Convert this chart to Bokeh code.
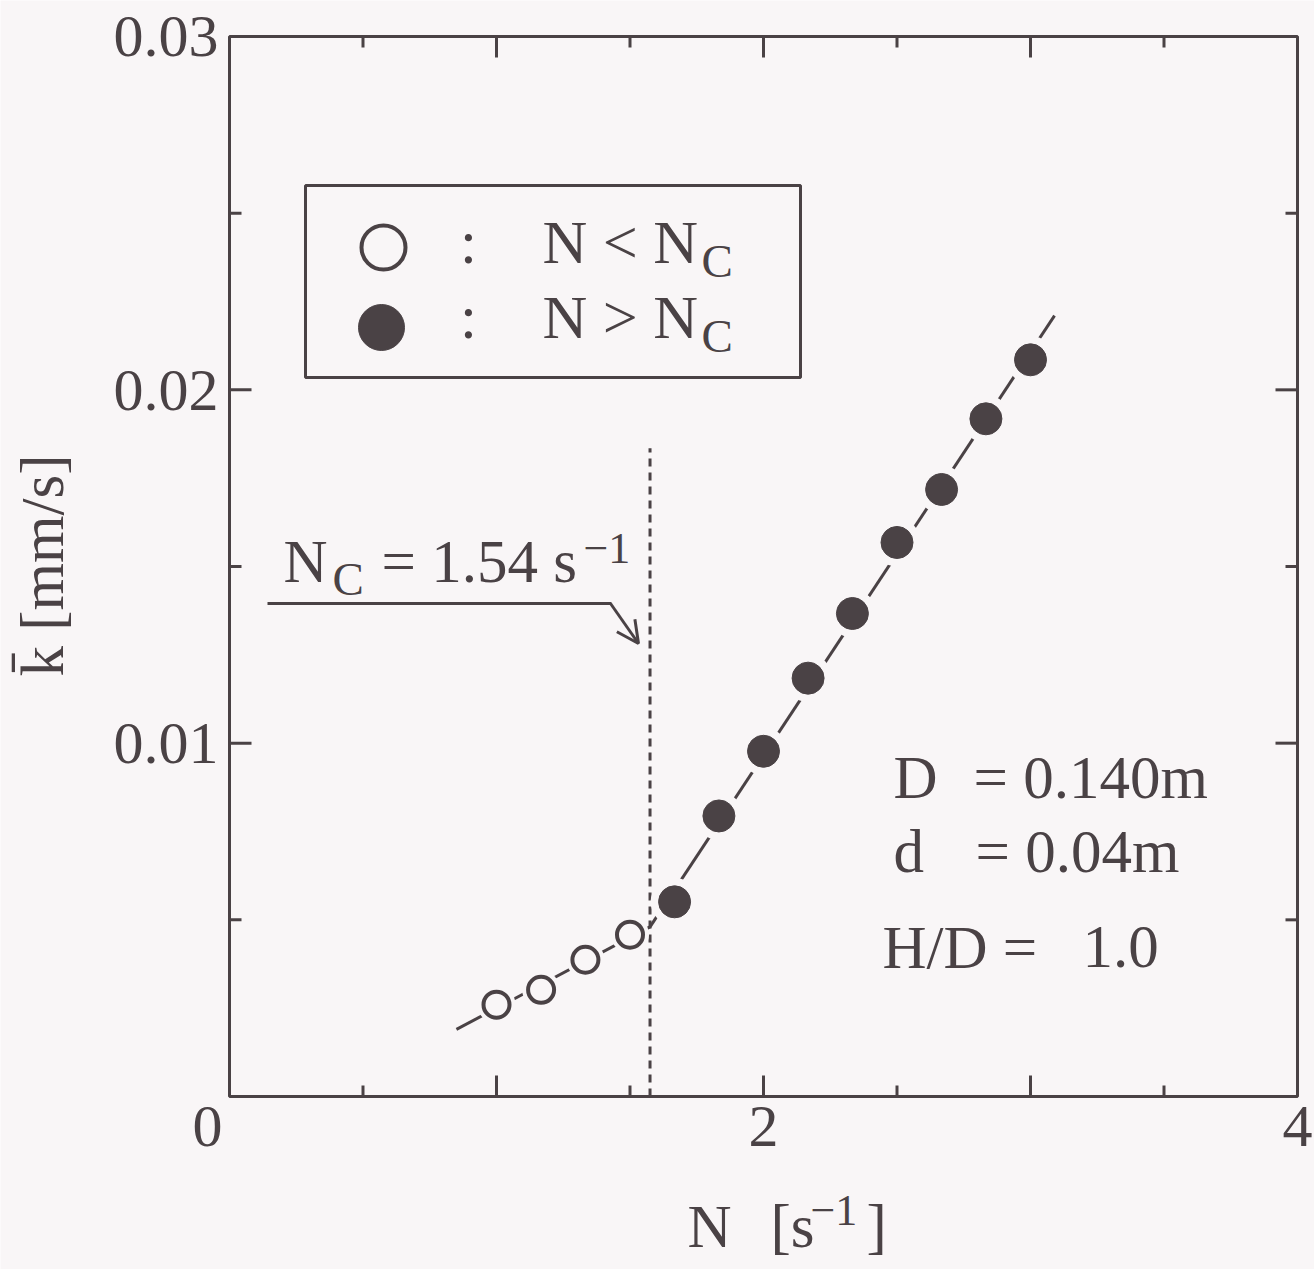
import math
from bokeh.plotting import figure
from bokeh.models import Range1d, Label, Arrow, OpenHead, BoxAnnotation
from bokeh.embed import file_html
from bokeh.resources import INLINE

# ---------------- data ----------------
N_open = [1.0, 1.167, 1.333, 1.5]
k_open = [0.0026, 0.00302, 0.00387, 0.00458]
N_fill = [1.667, 1.833, 2.0, 2.167, 2.333, 2.5, 2.667, 2.833, 3.0]
k_fill = [0.00551, 0.00794, 0.00977, 0.01184, 0.01367, 0.01568, 0.01718, 0.01918, 0.02085]
fit_low_N = [0.85, 1.575]
fit_low_k = [0.0019, 0.0048]
fit_high_N = [1.575, 3.09]
fit_high_k = [0.0048, 0.0221]
nc_line_N = [1.575, 1.575]
nc_line_k = [0.0, 0.01835]
x_major = [1, 2, 3]
x_minor = [0.5, 1.5, 2.5, 3.5]
x_tick_vals = [2, 4]
x_tick_text = ["2", "4"]
y_major = [0.01, 0.02]
y_minor = [0.005, 0.015, 0.025]
y_tick_vals = [0.01, 0.02, 0.03]
y_tick_text = ["0.01", "0.02", "0.03"]

# ---------------- layout ----------------
W, H = 1314, 1269
L, R, T, B = 229, 1297, 36, 1096          # plot box in pixels
XMAX, YMAX = 4.0, 0.03
INK = "#4a4245"
BG = "#f9f6f7"
FONT = "Liberation Serif"
BASE_SHIFT = 0.345                          # baseline correction (em)


def X(px):
    return (px - L) / (R - L) * XMAX


def Y(py):
    return (B - py) / (B - T) * YMAX


def PX(x):
    return L + x / XMAX * (R - L)


def PY(y):
    return B - y / YMAX * (B - T)


p = figure(width=W, height=H,
           x_range=Range1d(X(0), X(W)), y_range=Range1d(Y(H), Y(0)),
           output_backend="svg", toolbar_location=None,
           x_axis_location=None, y_axis_location=None,
           min_border=0)
p.grid.visible = False
p.background_fill_color = BG
p.border_fill_color = BG
p.outline_line_color = None

# plot box
p.add_layout(BoxAnnotation(left=0, right=XMAX, bottom=0, top=YMAX,
                           fill_alpha=0, line_color=INK, line_alpha=1,
                           line_width=3))

# ticks (pointing inwards, on all four sides)
tx_major = 21 * YMAX / (B - T)
tx_minor = 11 * YMAX / (B - T)
ty_major = 22 * XMAX / (R - L)
ty_minor = 12 * XMAX / (R - L)
tick_kw = dict(line_color=INK, line_width=3)
p.segment(x_major, [0] * len(x_major), x_major, [tx_major] * len(x_major), **tick_kw)
p.segment(x_minor, [0] * len(x_minor), x_minor, [tx_minor] * len(x_minor), **tick_kw)
p.segment(x_major, [YMAX] * len(x_major), x_major, [YMAX - tx_major] * len(x_major), **tick_kw)
p.segment(x_minor, [YMAX] * len(x_minor), x_minor, [YMAX - tx_minor] * len(x_minor), **tick_kw)
p.segment([0] * len(y_major), y_major, [ty_major] * len(y_major), y_major, **tick_kw)
p.segment([0] * len(y_minor), y_minor, [ty_minor] * len(y_minor), y_minor, **tick_kw)
p.segment([XMAX] * len(y_major), y_major, [XMAX - ty_major] * len(y_major), y_major, **tick_kw)
p.segment([XMAX] * len(y_minor), y_minor, [XMAX - ty_minor] * len(y_minor), y_minor, **tick_kw)

# ---------------- fit lines, critical line ----------------
p.line(fit_low_N, fit_low_k, line_color=INK, line_width=3)
p.line(fit_high_N, fit_high_k, line_color=INK, line_width=3)
p.line(nc_line_N, nc_line_k, line_color=INK, line_width=3, line_dash="8 6")

# halos that break the lines around the markers
p.scatter(N_open, k_open, size=38, fill_color=BG, line_color=None)
p.scatter(N_fill, k_fill, size=48, fill_color=BG, line_color=None)

# markers
p.scatter(N_open, k_open, size=26, fill_color=BG, line_color=INK, line_width=4)
p.scatter(N_fill, k_fill, size=32, fill_color=INK, line_color=INK, line_width=1)

# ---------------- arrow annotation ----------------
p.line([X(267), X(611)], [Y(603), Y(603)], line_color=INK, line_width=3)
p.add_layout(Arrow(x_start=X(610), y_start=Y(603), x_end=X(638), y_end=Y(643),
                   line_color=INK, line_width=3,
                   end=OpenHead(size=22, line_color=INK, line_width=3)))

# ---------------- legend box ----------------
p.add_layout(BoxAnnotation(left=X(305), right=X(800), top=Y(185), bottom=Y(377),
                           fill_alpha=0, line_color=INK, line_alpha=1, line_width=3))
p.scatter([X(383)], [Y(247)], size=44, fill_color=BG, line_color=INK, line_width=4)
p.scatter([X(381)], [Y(327)], size=46, fill_color=INK, line_color=INK)


def lab(text, px, py, size=61, align="left", angle=0.0):
    """Text whose alphabetic baseline sits at pixel row py (or column for rotated)."""
    shift = BASE_SHIFT * size
    if angle:
        x, y = X(px - shift), Y(py)
    else:
        x, y = X(px), Y(py - shift)
    p.add_layout(Label(x=x, y=y, text=text, text_font=FONT,
                       text_font_size=f"{size}px", text_color=INK,
                       text_align=align, text_baseline="alphabetic",
                       angle=angle))


# tick labels
for v, t in zip(x_tick_vals, x_tick_text):
    lab(t, PX(v), 1147, 60, "center")
for v, t in zip(y_tick_vals, y_tick_text):
    lab(t, 218, PY(v) + 21, 60, "right")
lab("0", 207, 1147, 60, "center")

# legend texts
lab(":", 468, 263, 61, "center")
lab("N < N", 542, 263, 62)
lab("C", 701, 277, 47)
lab(":", 468, 338, 61, "center")
lab("N > N", 542, 338, 62)
lab("C", 701, 352, 47)

# N_C annotation
lab("N", 283, 582)
lab("C", 332, 595, 47)
lab("= 1.54 s", 381, 582)
lab("\u22121", 583, 563, 44)

# parameters
lab("D", 893, 798)
lab("= 0.140m", 973, 798)
lab("d", 893, 872)
lab("= 0.04m", 975, 872)
lab("H/D =", 882, 968)
lab("1.0", 1082, 968)

# axis titles
lab("N", 687, 1247)
lab("[s", 770, 1247)
lab("\u22121", 810, 1225, 44)
lab("]", 866, 1247)
lab("k\u0304 [mm/s]", 63, 565, 61, "center", math.pi / 2)

open("out.html", "w").write(file_html(p, INLINE))
